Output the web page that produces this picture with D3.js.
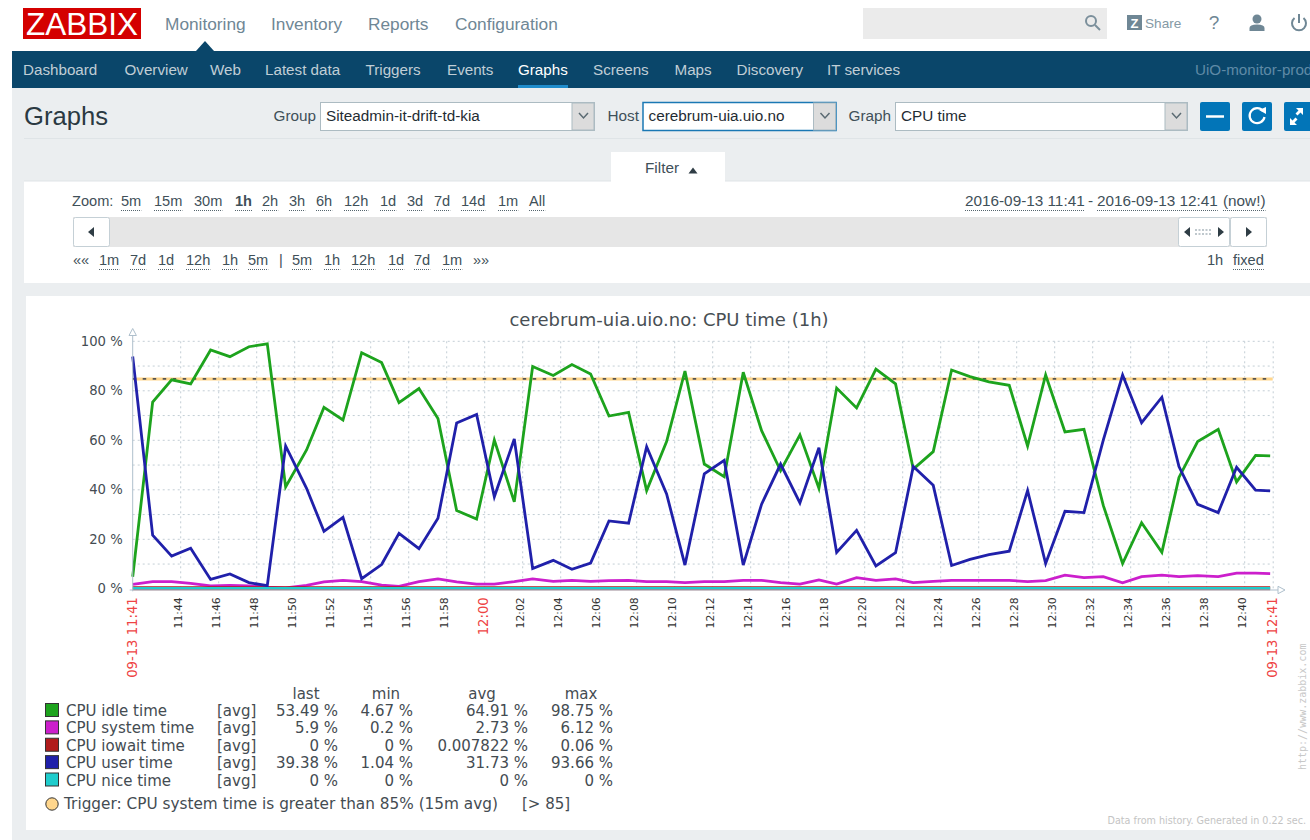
<!DOCTYPE html>
<html>
<head>
<meta charset="utf-8">
<title>Graphs</title>
<script src="https://cdn.jsdelivr.net/npm/d3@7"></script>
<style>
  html, body { margin: 0; padding: 0; background: #fff; overflow: hidden; }
  svg { display: block; }
  .ui { font-family: "Liberation Sans", Arial, sans-serif; }
  .graph text { font-family: "DejaVu Sans", sans-serif; }
  .grid .domain { display: none; }
  .grid line { stroke: #c3ced5; stroke-width: 1; stroke-dasharray: 2 3; }
</style>
</head>
<body>
<div id="chart"></div>
<script>
// values
var sampleTimes = ['11:41:30','11:42:33','11:43:33','11:44:33','11:45:36','11:46:37','11:47:37','11:48:35','11:49:33','11:50:39',
  '11:51:34','11:52:34','11:53:33','11:54:36','11:55:31','11:56:34','11:57:34','11:58:33','11:59:36','12:00:32',
  '12:01:35','12:02:33','12:03:38','12:04:37','12:05:36','12:06:34','12:07:36','12:08:33','12:09:36','12:10:34',
  '12:11:35','12:12:38','12:13:38','12:14:36','12:15:36','12:16:37','12:17:37','12:18:33','12:19:36','12:20:37',
  '12:21:39','12:22:35','12:23:38','12:24:36','12:25:34','12:26:34','12:27:38','12:28:36','12:29:33','12:30:34',
  '12:31:34','12:32:35','12:33:36','12:34:36','12:35:40','12:36:34','12:37:33','12:38:38','12:39:36','12:40:36','12:41:22']

var idleTime = [4.67,75.2,84.2,82.6,96.3,93.6,97.6,98.75,41,55.9,73.1,68,95.2,91.2,75,80.7,68.6,31.4,28,59.9,
  34.9,89.6,86,90.4,86.6,69.6,71.1,39.5,59.3,87.8,50.2,45.1,87.3,63.7,47.5,62,40.4,80.9,72.9,88.6,
  82.6,48.2,55.2,88.2,85.5,83.4,82,57.5,86.2,63.2,64.2,33.5,10,26.5,14.5,44.8,59.3,64.2,43,53.7,53.49]

var systemTime = [1.6,2.7,2.7,2,1,1.2,1,0.5,0.2,1.2,2.6,3.2,2.7,1.3,0.8,2.7,3.8,2.6,1.7,1.7,
  2.7,3.8,2.8,3.2,2.8,3.1,3.2,2.7,2.7,2.3,2.7,2.7,3.2,3.2,2.3,1.7,3.4,1.7,4.3,3.2,
  3.8,2.3,2.8,3.2,3.2,3.2,3.2,2.7,3.1,5.3,4.3,4.7,2.2,4.7,5.3,4.7,5.1,4.7,6.12,6.1,5.9]

var iowaitTime = sampleTimes.map(function() { return 0 })

var userTime = [93.66,21.5,13,16.2,3.6,5.8,2.3,1.04,57.5,40.4,23,28.7,3.9,9.6,22.2,16,28.3,66.8,70.2,37,
  60.3,8,11.3,7.7,10.2,27.2,26.3,57.2,38.1,9.4,46.2,51.7,9.4,34,50.2,34.5,56.8,14.5,23.4,9,
  14.4,49.2,41.6,9.2,11.7,13.6,15,39.5,10,31.1,30.6,59.9,86.2,66.9,77.2,49.2,33.9,30.6,48.9,39.7,39.38]

var niceTime = sampleTimes.map(function() { return 0 })

var triggerLevel = 84.6

var xTickTimes = ['11:41:30','11:44','11:46','11:48','11:50','11:52','11:54','11:56','11:58','12:00','12:02','12:04','12:06',
  '12:08','12:10','12:12','12:14','12:16','12:18','12:20','12:22','12:24','12:26','12:28','12:30','12:32','12:34','12:36',
  '12:38','12:40','12:41:30']
var yTicks = [0,10,20,30,40,50,60,70,80,90,100]

var seriesNames = ['CPU idle time','CPU system time','CPU iowait time','CPU user time','CPU nice time']
var seriesColors = ['#1da31d','#cc1fcc','#b01c1c','#2020aa','#1fcccc']
var lastValues = ['53.49 %','5.9 %','0 %','39.38 %','0 %']
var minValues = ['4.67 %','0.2 %','0 %','1.04 %','0 %']
var avgValues = ['64.91 %','2.73 %','0.007822 %','31.73 %','0 %']
var maxValues = ['98.75 %','6.12 %','0.06 %','93.66 %','0 %']

var topMenu = ['Monitoring','Inventory','Reports','Configuration']
var topMenuX = [165,271,368,455]
var subMenu = ['Dashboard','Overview','Web','Latest data','Triggers','Events','Graphs','Screens','Maps','Discovery','IT services']
var subMenuX = [23,124.5,210,265,365.5,447,518,593,674.5,736.5,827]
var zoomLinks = ['5m','15m','30m','1h','2h','3h','6h','12h','1d','3d','7d','14d','1m','All']
var zoomLinksX = [121,154,194,235,262,289,316,344,380,407,434,461,498,529]
var moveLinks = ['1m','7d','1d','12h','1h','5m','5m','1h','12h','1d','7d','1m']
var moveLinksX = [99,130,158,186,222,248,292,324,351,388,414,442]

var svg = d3.select('#chart').append('svg').attr('width', 1310).attr('height', 840)

function label(parent, str, x, y, size, color, anchor, weight) {
  return parent.append('text').attr('x', x).attr('y', y)
    .attr('font-size', size).attr('fill', color)
    .attr('text-anchor', anchor || 'start')
    .attr('font-weight', weight || 'normal')
    .text(str)
}
function box(parent, x, y, w, h, fill, stroke, r) {
  return parent.append('rect').attr('x', x).attr('y', y).attr('width', w).attr('height', h)
    .attr('fill', fill).attr('stroke', stroke || 'none').attr('rx', r || 0)
}
function dottedLink(parent, str, x, y, size, color, weight) {
  var t = label(parent, str, x, y, size, color, 'start', weight)
  parent.append('line').attr('x1', x).attr('x2', x + t.node().getComputedTextLength())
    .attr('y1', y + 4.5).attr('y2', y + 4.5)
    .attr('stroke', '#55656e').attr('stroke-dasharray', '1 1')
  return t
}

// page chrome
var ui = svg.append('g').attr('class', 'ui')
box(ui, 12, 88, 1298, 752, '#ebeef0')

box(ui, 23, 8, 118, 31, '#d40000')
label(ui, 'ZABBIX', 82, 35, 31.5, '#fff', 'middle')
topMenu.forEach(function(d, i) { label(ui, d, topMenuX[i], 30, 17.3, '#6f8795') })

box(ui, 863, 8, 244, 31, '#ebebeb')
ui.append('circle').attr('cx', 1091).attr('cy', 21).attr('r', 5).attr('fill', 'none').attr('stroke', '#7b8f9b').attr('stroke-width', 2)
ui.append('line').attr('x1', 1095).attr('y1', 25).attr('x2', 1100).attr('y2', 30).attr('stroke', '#7b8f9b').attr('stroke-width', 2)
box(ui, 1127, 15, 15, 15, '#6f8795')
label(ui, 'Z', 1134.5, 27.5, 13, '#fff', 'middle', 'bold')
label(ui, 'Share', 1145, 28, 13.6, '#8599a5')
label(ui, '?', 1214, 29, 19, '#6f8795', 'middle')
ui.append('circle').attr('cx', 1257).attr('cy', 19).attr('r', 4.5).attr('fill', '#6f8795')
ui.append('path').attr('d', 'M1249.5 31v-3q0-3.5 7.5-3.5t7.5 3.5v3z').attr('fill', '#6f8795')
ui.append('path').attr('d', 'M1294.5 18a7 7 0 1 0 9 0').attr('fill', 'none').attr('stroke', '#6f8795').attr('stroke-width', 2)
ui.append('line').attr('x1', 1299).attr('x2', 1299).attr('y1', 14).attr('y2', 23).attr('stroke', '#6f8795').attr('stroke-width', 2)

box(ui, 12, 51, 1298, 37, '#0a466a')
ui.append('path').attr('d', 'M196 51l9-10 9 10z').attr('fill', '#0a466a')
subMenu.forEach(function(d, i) {
  label(ui, d, subMenuX[i], 75, 15.2, d == 'Graphs' ? '#fff' : '#c0ced6')
})
box(ui, 518, 85, 50, 3, '#1f8ccc')
label(ui, 'UiO-monitor-prod', 1195, 75, 15.2, '#5f8aa6')

label(ui, 'Graphs', 24, 125, 25.6, '#2a3942')
ui.append('line').attr('x1', 24).attr('x2', 1310).attr('y1', 138.5).attr('y2', 138.5).attr('stroke', '#dfe4e7')

function selectBox(name, labelX, value, x, w, active) {
  label(ui, name, labelX, 121, 15.3, '#3f5059', 'end')
  box(ui, x + 0.5, 102.5, w, 28, '#fff', active ? '#1a78b4' : '#acbbc2').attr('stroke-width', active ? 1.5 : 1)
  box(ui, x + w - 22, 103, 22, 27, '#dcdcdc', '#acbbc2')
  ui.append('path').attr('d', 'M' + (x + w - 15) + ' 113l4.5 5 4.5-5').attr('fill', 'none').attr('stroke', '#5a6a72').attr('stroke-width', 1.5)
  label(ui, value, x + 6, 121, 15.3, '#1f2c33')
}
selectBox('Group', 316, 'Siteadmin-it-drift-td-kia', 320, 274)
selectBox('Host', 639, 'cerebrum-uia.uio.no', 642.5, 193, true)
selectBox('Graph', 891, 'CPU time', 895, 292)

box(ui, 1200, 102, 30, 29, '#0275b8', null, 2)
ui.append('line').attr('x1', 1206).attr('x2', 1224).attr('y1', 116.5).attr('y2', 116.5).attr('stroke', '#fff').attr('stroke-width', 2.5)
box(ui, 1242, 102, 30, 29, '#0275b8', null, 2)
ui.append('path').attr('d', 'M1263 111a7.5 7.5 0 1 0 1.5 6').attr('fill', 'none').attr('stroke', '#fff').attr('stroke-width', 2.2)
ui.append('path').attr('d', 'M1259 110l7-3v7z').attr('fill', '#fff')
box(ui, 1284, 102, 30, 29, '#0275b8', null, 2)
ui.append('path').attr('d', 'M1296 108h7v7l-2.5-2.5-3 3-2-2 3-3zM1290 125v-7l2.5 2.5 3-3 2 2-3 3 2.5 2.5z').attr('fill', '#fff')

box(ui, 611, 152, 114, 30, '#fff')
label(ui, 'Filter', 645, 173, 15.3, '#3f5059')
ui.append('path').attr('d', 'M688.5 173.5l4.5-6 4.5 6z').attr('fill', '#2f3d45')

box(ui, 24, 181, 1286, 102, '#fff')
ui.append('line').attr('x1', 24).attr('x2', 611).attr('y1', 181).attr('y2', 181).attr('stroke', '#dfe4e7')
ui.append('line').attr('x1', 725).attr('x2', 1310).attr('y1', 181).attr('y2', 181).attr('stroke', '#dfe4e7')

label(ui, 'Zoom:', 72, 206, 14.6, '#3f5059')
zoomLinks.forEach(function(d, i) {
  dottedLink(ui, d, zoomLinksX[i], 206, 14.6, '#3f5059', d == '1h' ? 'bold' : 'normal')
})
dottedLink(ui, '2016-09-13 11:41', 965, 206, 15.3, '#3f5059')
label(ui, '-', 1088, 206, 15.3, '#3f5059')
dottedLink(ui, '2016-09-13 12:41', 1097, 206, 15.3, '#3f5059')
dottedLink(ui, '(now!)', 1223, 206, 15.3, '#3f5059')

box(ui, 73, 217, 1194, 30, '#e6e6e6')
box(ui, 73.5, 217.5, 36, 29, '#fff', '#c5d0d6', 2)
ui.append('path').attr('d', 'M88 232l6-5v10z').attr('fill', '#2f3d45')
box(ui, 1178.5, 217.5, 51, 29, '#fff', '#c5d0d6', 2)
ui.append('path').attr('d', 'M1184 232l6-5v10zM1224 232l-6-5v10z').attr('fill', '#2f3d45')
ui.append('line').attr('x1', 1195).attr('x2', 1212).attr('y1', 230).attr('y2', 230).attr('stroke', '#aab6bd').attr('stroke-width', 1.5).attr('stroke-dasharray', '2 1.5')
ui.append('line').attr('x1', 1195).attr('x2', 1212).attr('y1', 234).attr('y2', 234).attr('stroke', '#aab6bd').attr('stroke-width', 1.5).attr('stroke-dasharray', '2 1.5')
box(ui, 1230.5, 217.5, 36, 29, '#fff', '#c5d0d6', 2)
ui.append('path').attr('d', 'M1252 232l-6-5v10z').attr('fill', '#2f3d45')

label(ui, '««', 73, 265, 14.6, '#3f5059')
moveLinks.forEach(function(d, i) { dottedLink(ui, d, moveLinksX[i], 265, 14.6, '#3f5059') })
label(ui, '|', 279, 265, 14.6, '#3f5059')
label(ui, '»»', 473, 265, 14.6, '#3f5059')
label(ui, '1h', 1207, 265, 14.6, '#3f5059')
dottedLink(ui, 'fixed', 1233, 265, 14.6, '#3f5059')

box(ui, 26, 296, 1284, 534, '#fff')

// graph
var graph = svg.append('g').attr('class', 'graph')
var plotLeft = 132.7, plotRight = 1272.7, plotTop = 340.8, plotBottom = 588.3

var parseSec = d3.timeParse('%Y-%m-%d %H:%M:%S')
function toDate(s) { return parseSec('2016-09-13 ' + (s.length == 5 ? s + ':00' : s)) }

var x = d3.scaleTime()
  .domain([toDate('11:41:30'), toDate('12:41:30')])
  .range([plotLeft, plotRight])
var y = d3.scaleLinear().domain([0, 100]).range([plotBottom, plotTop])

label(graph, 'cerebrum-uia.uio.no: CPU time (1h)', 669, 326, 18, '#484f54', 'middle')

// grid comes straight out of the axes, long ticks
var tickDates = xTickTimes.map(toDate)
var fmtHm = d3.timeFormat('%H:%M'), fmtFull = d3.timeFormat('%m-%d %H:%M')
var isEnd = function(d, i) { return i == 0 || i == tickDates.length - 1 }
var isRed = function(d, i) { return isEnd(d, i) || fmtHm(d) == '12:00' }

var xAxis = d3.axisBottom(x)
  .tickValues(tickDates)
  .tickSize(-(plotBottom - plotTop))
  .tickPadding(0)
  .tickFormat(function(d, i) { return isEnd(d, i) ? fmtFull(d) : fmtHm(d) })
var xG = graph.append('g').attr('class', 'grid')
  .attr('transform', 'translate(0,' + plotBottom + ')')
  .call(xAxis)
xG.selectAll('.tick').filter(function(d, i) { return i == 0 }).select('line').remove()
xG.selectAll('text')
  .attr('text-anchor', 'end')
  .attr('transform', 'rotate(-90)')
  .attr('x', -9).attr('y', 0).attr('dy', function(d, i) { return isRed(d, i) ? '0.28em' : '0.16em' })
  .attr('font-size', function(d, i) { return isRed(d, i) ? 13.2 : 10.8 })
  .attr('fill', function(d, i) { return isRed(d, i) ? '#ee4444' : '#333' })

var yAxis = d3.axisLeft(y)
  .tickValues(yTicks)
  .tickSize(-(plotRight - plotLeft))
  .tickPadding(10)
  .tickFormat(function(d) { return d % 20 == 0 ? d + ' %' : '' })
var yG = graph.append('g').attr('class', 'grid')
  .attr('transform', 'translate(' + plotLeft + ',0)')
  .call(yAxis)
yG.selectAll('text').attr('font-size', 13.2).attr('fill', '#444c52')

// trigger
graph.append('line').attr('x1', plotLeft).attr('x2', plotRight)
  .attr('y1', y(triggerLevel)).attr('y2', y(triggerLevel))
  .attr('stroke', '#ffd68c').attr('stroke-width', 3)
graph.append('line').attr('x1', plotLeft).attr('x2', plotRight)
  .attr('y1', y(triggerLevel)).attr('y2', y(triggerLevel))
  .attr('stroke', '#555').attr('stroke-width', 1.6).attr('stroke-dasharray', '3.5 6.5')

// series
var times = sampleTimes.map(toDate)
var line = d3.line()
  .x(function(d, i) { return x(times[i]) })
  .y(function(d) { return y(d) })
var seriesValues = [idleTime, systemTime, iowaitTime, userTime, niceTime]
var seriesWidths = [2.8, 2.8, 4, 2.8, 2.4]
graph.selectAll('.series').data(seriesValues).enter().append('path')
  .attr('class', 'series')
  .attr('d', line)
  .attr('fill', 'none')
  .attr('stroke', function(d, i) { return seriesColors[i] })
  .attr('stroke-width', function(d, i) { return seriesWidths[i] })
  .attr('stroke-linejoin', 'miter')

// arrow axes
var axisColor = '#aebfcc'
graph.append('line').attr('x1', plotLeft).attr('x2', plotLeft).attr('y1', 334).attr('y2', plotBottom + 3).attr('stroke', axisColor)
graph.append('line').attr('x1', plotLeft - 3).attr('x2', 1279).attr('y1', plotBottom + 1.7).attr('y2', plotBottom + 1.7).attr('stroke', axisColor)
graph.append('path').attr('d', 'M129 335.5l3.7-7 3.7 7z').attr('fill', '#fff').attr('stroke', axisColor)
graph.append('path').attr('d', 'M1278 586.3l7 3.7-7 3.7z').attr('fill', '#fff').attr('stroke', axisColor)

// legend
var rowY = d3.scalePoint().domain(seriesNames).range([716, 785.5])
var legendSize = 15, legendColor = '#444c52'
label(graph, 'last', 306, 699, legendSize, legendColor, 'middle')
label(graph, 'min', 386, 699, legendSize, legendColor, 'middle')
label(graph, 'avg', 482, 699, legendSize, legendColor, 'middle')
label(graph, 'max', 581, 699, legendSize, legendColor, 'middle')
seriesNames.forEach(function(name, i) {
  var b = rowY(name)
  graph.append('rect').attr('x', 45.5).attr('y', b - 12.5).attr('width', 13).attr('height', 13)
    .attr('fill', seriesColors[i]).attr('stroke', '#333')
  label(graph, name, 66, b, legendSize, legendColor)
  label(graph, '[avg]', 217, b, legendSize, legendColor)
  label(graph, lastValues[i], 338, b, legendSize, legendColor, 'end')
  label(graph, minValues[i], 413, b, legendSize, legendColor, 'end')
  label(graph, avgValues[i], 528, b, legendSize, legendColor, 'end')
  label(graph, maxValues[i], 613, b, legendSize, legendColor, 'end')
})
graph.append('circle').attr('cx', 52).attr('cy', 804).attr('r', 6.2).attr('fill', '#ffd68c').attr('stroke', '#333')
label(graph, 'Trigger: CPU system time is greater than 85% (15m avg)', 64, 809, 15.3, legendColor)
label(graph, '[> 85]', 522, 809, 15, legendColor)

label(graph, 'Data from history. Generated in 0.22 sec.', 1306, 824, 9.6, '#c4c4c4', 'end')
graph.append('text')
  .attr('transform', 'translate(1306,770) rotate(-90)')
  .attr('font-size', 10).attr('fill', '#c8c8c8')
  .style('font-family', '"DejaVu Sans Mono", monospace')
  .text('http://www.zabbix.com')
</script>
</body>
</html>
